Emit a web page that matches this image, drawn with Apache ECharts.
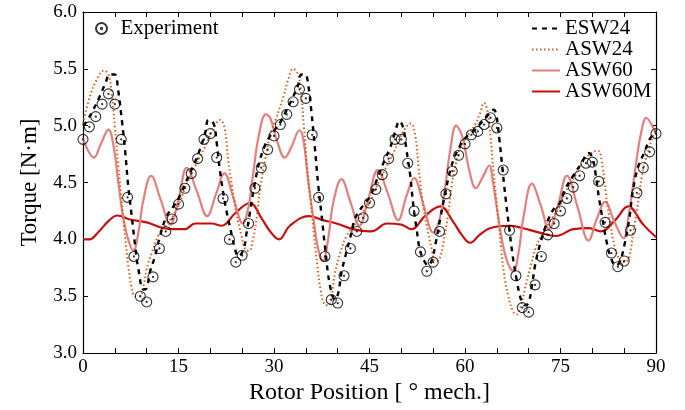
<!DOCTYPE html>
<html>
<head>
<meta charset="utf-8">
<script src="https://cdn.jsdelivr.net/npm/echarts@6/dist/echarts.min.js"></script>
<style>html,body{margin:0;padding:0;background:#fff;}#c{width:685px;height:410px;}</style>
</head>
<body>
<div id="c"></div>
<script>
// ---- Data ----
const xTickLabels = [0, 15, 30, 45, 60, 75, 90];
const yTickLabels = ['3.0','3.5','4.0','4.5','5.0','5.5','6.0'];

const expX = [0,1,2,3,4,5,6,7,8,9,10,11,12,13,14,15,16,17,18,19,20,21,22,23,24,25,26,27,28,29,30,31,32,33,34,35,36,37,38,39,40,41,42,43,44,45,46,47,48,49,50,51,52,53,54,55,56,57,58,59,60,61,62,63,64,65,66,67,68,69,70,71,72,73,74,75,76,77,78,79,80,81,82,83,84,85,86,87,88,89,90];
const expY = [4.88,4.99,5.08,5.19,5.28,5.19,4.88,4.37,3.85,3.50,3.45,3.67,3.92,4.07,4.18,4.31,4.45,4.58,4.71,4.88,4.93,4.72,4.36,4.00,3.80,3.86,4.14,4.45,4.63,4.79,4.91,5.01,5.10,5.21,5.32,5.24,4.92,4.37,3.85,3.47,3.44,3.68,3.92,4.07,4.19,4.32,4.44,4.57,4.71,4.88,4.88,4.67,4.25,3.89,3.72,3.80,4.07,4.40,4.60,4.74,4.84,4.92,4.95,5.01,5.07,4.98,4.61,4.08,3.68,3.40,3.36,3.60,3.85,4.04,4.14,4.25,4.36,4.46,4.56,4.67,4.68,4.51,4.15,3.88,3.76,3.81,4.08,4.41,4.63,4.77,4.93];

const esw24X = [0,0.6,1.6,2.4,3.5,4.2,5.0,5.5,6.1,6.6,7.1,7.6,8.2,8.7,9.5,10.0,10.5,11.3,12.1,13.1,14.2,15.0,16.6,18.1,19.2,19.7,20.5,21.0,21.5,22.2,22.8,23.4,23.9,24.4,25.2,25.7,26.2,27.0,27.8,28.6,29.4,30.2,31.2,32.0,32.8,33.8,34.3,34.9,35.4,35.9,36.4,36.96,37.5,38.0,38.8,39.6,40.1,40.6,41.2,41.9,42.7,43.5,44.3,45.1,46.4,47.4,48.2,49.0,49.7,50.3,50.8,51.4,51.9,52.4,52.9,53.6,54.2,54.8,55.4,56.1,56.9,57.7,58.4,59.2,60.0,61.3,62.3,63.4,64.5,64.9,65.4,65.9,66.4,66.96,67.5,68.1,68.8,69.4,69.96,70.5,71.0,71.7,72.5,73.2,74.1,74.9,75.7,77.0,78.3,79.4,80.0,80.5,81.0,81.6,82.2,82.9,83.7,84.3,85.0,85.8,86.4,87.2,88.2,89.0,90.0];
const esw24Y = [5.00,5.04,5.14,5.23,5.37,5.45,5.45,5.32,5.05,4.79,4.47,4.23,3.94,3.74,3.56,3.57,3.71,3.85,4.03,4.20,4.29,4.36,4.56,4.75,4.94,5.05,5.02,4.85,4.61,4.35,4.18,4.03,3.91,3.85,3.91,4.06,4.23,4.50,4.70,4.83,4.91,4.97,5.05,5.14,5.23,5.36,5.45,5.45,5.35,5.11,4.82,4.47,4.20,3.94,3.59,3.47,3.53,3.71,3.85,4.00,4.18,4.26,4.32,4.38,4.56,4.70,4.80,4.94,5.04,4.98,4.79,4.56,4.29,4.09,3.91,3.81,3.77,3.82,3.97,4.18,4.41,4.61,4.73,4.82,4.89,4.95,5.01,5.08,5.14,5.10,4.88,4.61,4.35,4.09,3.85,3.65,3.47,3.42,3.44,3.59,3.77,3.94,4.09,4.19,4.28,4.32,4.44,4.56,4.67,4.76,4.72,4.58,4.38,4.18,3.99,3.84,3.77,3.80,3.94,4.18,4.44,4.64,4.77,4.88,4.95];

const asw24X = [0,1.1,2.1,3.3,4.0,4.5,5.0,5.55,6.1,6.6,7.1,7.6,8.2,8.85,9.5,10.0,10.8,11.8,12.9,14.2,15.2,16.0,17.6,19.2,20.5,21.5,22.2,22.8,23.4,24.1,24.9,25.5,26.1,26.7,27.3,27.8,28.6,29.4,30.3,31.5,32.2,33.0,33.7,34.2,34.7,35.2,35.8,36.3,36.8,37.3,37.9,38.5,39.1,39.6,40.4,41.4,42.5,43.8,45.1,45.9,47.4,49.0,50.3,51.5,52.2,52.7,53.3,54.0,54.8,55.3,55.9,56.6,57.3,57.9,58.7,59.5,60.5,61.6,62.3,63.0,63.5,64.0,64.5,65.1,65.6,66.1,66.8,67.6,68.1,68.8,69.4,70.2,71.2,72.3,73.6,74.9,75.7,77.3,78.8,80.1,80.9,81.6,82.1,82.8,83.5,84.3,85.1,85.8,86.4,87.1,87.8,88.7,89.6,90];
const asw24Y = [5.02,5.26,5.40,5.485,5.45,5.29,4.99,4.64,4.32,4.03,3.77,3.59,3.50,3.50,3.59,3.74,3.88,4.03,4.12,4.21,4.32,4.45,4.64,4.82,4.98,5.05,4.99,4.70,4.47,4.23,4.03,3.91,3.90,4.00,4.20,4.44,4.70,4.92,5.06,5.26,5.40,5.50,5.46,5.32,4.99,4.64,4.32,4.03,3.77,3.56,3.43,3.42,3.53,3.71,3.88,4.03,4.12,4.23,4.33,4.44,4.61,4.79,4.95,5.02,4.91,4.64,4.35,4.12,3.91,3.81,3.82,3.97,4.20,4.47,4.70,4.84,4.92,5.01,5.10,5.20,5.14,4.91,4.58,4.26,3.97,3.71,3.50,3.36,3.34,3.42,3.56,3.74,3.94,4.06,4.18,4.29,4.41,4.56,4.70,4.77,4.78,4.64,4.41,4.15,3.94,3.82,3.80,3.85,4.06,4.29,4.56,4.76,4.92,4.96];

const asw60X = [0,0.8,1.7,2.8,4.0,4.8,5.55,6.3,7.1,7.9,8.7,9.5,10.7,12.2,13.7,15.0,16.3,17.9,19.5,20.9,22.2,23.7,25.1,26.0,26.8,27.6,28.7,29.4,30.4,31.7,32.8,34.0,34.6,35.4,36.2,36.96,37.7,38.5,39.3,40.6,42.0,43.4,44.8,46.3,47.9,49.5,50.8,52.0,53.5,55.0,56.1,56.9,57.7,58.6,59.6,60.7,61.7,62.8,63.8,64.4,65.2,66.0,66.8,67.6,68.4,69.2,70.5,71.9,73.2,74.6,76.0,77.7,79.4,80.7,82.0,83.5,84.9,85.8,86.7,87.6,88.5,89.4,90];
const asw60Y = [4.89,4.78,4.72,4.84,4.965,4.82,4.50,4.20,4.00,3.90,4.06,4.35,4.56,4.35,4.13,4.35,4.63,4.42,4.205,4.40,4.58,4.35,4.14,4.29,4.61,4.91,5.10,5.07,4.88,4.72,4.82,4.96,4.88,4.50,4.18,3.91,3.81,4.00,4.32,4.53,4.33,4.12,4.35,4.61,4.40,4.17,4.38,4.54,4.30,4.06,4.20,4.47,4.79,5.00,4.90,4.60,4.45,4.55,4.65,4.50,4.20,3.94,3.78,3.72,3.88,4.20,4.49,4.30,4.09,4.30,4.56,4.28,3.99,4.18,4.33,4.15,4.01,4.25,4.60,4.92,5.07,5.00,4.93];

const asw60mX = [0,1.0,2.5,4.0,5.4,7.4,10.0,12.6,14.5,16.0,17.6,20.2,21.8,23.9,26.2,28.1,29.4,30.8,32.5,35.5,37.7,39.8,42.4,45.1,45.9,47.7,50.0,51.6,53.7,56.1,58.2,59.5,60.8,62.3,64.0,67.0,69.0,71.7,74.3,77.0,79.5,81.3,83.6,85.6,88.0,90.0];
const asw60mY = [4.00,4.00,4.07,4.16,4.21,4.175,4.15,4.10,4.09,4.09,4.14,4.14,4.12,4.23,4.32,4.18,4.07,4.00,4.12,4.205,4.17,4.14,4.09,4.07,4.08,4.14,4.13,4.09,4.205,4.29,4.15,4.04,3.97,4.04,4.10,4.12,4.10,4.06,4.03,4.09,4.10,4.07,4.17,4.29,4.13,4.02];

// ---- Build ----
const zip = (xs, ys) => xs.map((x, i) => [x, ys[i]]);
const FONT = '"Liberation Serif", "DejaVu Serif", serif';
const axisLineStyle = { color: '#000', width: 1.2 };
const tickStyle = { color: '#000', width: 1 };

const chart = echarts.init(document.getElementById('c'), null, { renderer: 'canvas' });
const option = {
  animation: false,
  backgroundColor: '#fff',
  grid: { left: 83, right: 29, top: 12, bottom: 56 },
  legend: [
    {
      data: ['Experiment'],
      left: 90, top: 13,
      itemWidth: 28, itemHeight: 11,
      textStyle: { fontFamily: FONT, fontSize: 21, color: '#000' }
    },
    {
      data: ['ESW24', 'ASW24', 'ASW60', 'ASW60M'],
      orient: 'vertical',
      left: 526, top: 13,
      itemWidth: 28, itemHeight: 14, itemGap: 0,
      itemStyle: { opacity: 0 },
      textStyle: { fontFamily: FONT, fontSize: 21, color: '#000' }
    }
  ],
  xAxis: [
    {
      type: 'value', min: 0, max: 90, interval: 5, position: 'bottom',
      axisLine: { onZero: false, lineStyle: axisLineStyle },
      axisTick: { inside: true, length: 5, lineStyle: tickStyle },
      axisLabel: {
        formatter: v => (xTickLabels.indexOf(v) >= 0 ? String(v) : ''),
        color: '#000', fontFamily: FONT, fontSize: 19, margin: 4
      },
      splitLine: { show: false },
      name: 'Rotor Position [ ° mech.]', nameLocation: 'middle', nameGap: 24,
      nameTextStyle: { fontFamily: FONT, fontSize: 24, color: '#000' }
    },
    {
      type: 'value', min: 0, max: 90, interval: 5, position: 'top',
      axisLine: { onZero: false, lineStyle: axisLineStyle },
      axisTick: { inside: true, length: 5, lineStyle: tickStyle },
      axisLabel: { show: false },
      splitLine: { show: false }
    }
  ],
  yAxis: [
    {
      type: 'value', min: 3.0, max: 6.0, interval: 0.5, position: 'left',
      axisLine: { onZero: false, lineStyle: axisLineStyle },
      axisTick: { inside: true, length: 5, lineStyle: tickStyle },
      axisLabel: {
        formatter: v => yTickLabels.find(t => Math.abs(parseFloat(t) - v) < 1e-6) || '',
        color: '#000', fontFamily: FONT, fontSize: 19, margin: 6
      },
      splitLine: { show: false },
      name: 'Torque [N·m]', nameLocation: 'middle', nameGap: 42,
      nameTextStyle: { fontFamily: FONT, fontSize: 23, color: '#000' }
    },
    {
      type: 'value', min: 3.0, max: 6.0, interval: 0.5, position: 'right',
      axisLine: { onZero: false, lineStyle: axisLineStyle },
      axisTick: { inside: true, length: 5, lineStyle: tickStyle },
      axisLabel: { show: false },
      splitLine: { show: false }
    }
  ],
  series: [
    {
      name: 'ASW60M', type: 'line', data: zip(asw60mX, asw60mY),
      symbol: 'none', smooth: 0.4, z: 2,
      lineStyle: { color: '#c50f0f', width: 2.2 },
      itemStyle: { color: '#c50f0f' }
    },
    {
      name: 'ASW60', type: 'line', data: zip(asw60X, asw60Y),
      symbol: 'none', smooth: 0.4, z: 3,
      lineStyle: { color: '#e3807f', width: 2.2 },
      itemStyle: { color: '#e3807f' }
    },
    {
      name: 'ASW24', type: 'line', data: zip(asw24X, asw24Y),
      symbol: 'none', smooth: 0.4, z: 4,
      lineStyle: { color: '#d4601c', width: 2, type: [1.5, 2.5] },
      itemStyle: { color: '#d4601c' }
    },
    {
      name: 'ESW24', type: 'line', data: zip(esw24X, esw24Y),
      symbol: 'none', smooth: 0.4, z: 5,
      lineStyle: { color: '#000', width: 2.4, type: [5, 5] },
      itemStyle: { color: '#000' }
    },
    {
      name: 'Experiment', type: 'scatter', data: zip(expX, expY), z: 6,
      symbol: 'path://M20,10A10,10,0,1,1,0,10A10,10,0,1,1,20,10ZM11.2,10A1.2,1.2,0,1,1,8.8,10A1.2,1.2,0,1,1,11.2,10Z',
      symbolSize: 10,
      itemStyle: { color: 'rgba(255,255,255,0)', borderColor: '#000', borderWidth: 1.1 }
    }
  ]
};
chart.setOption(option);
</script>
</body>
</html>
